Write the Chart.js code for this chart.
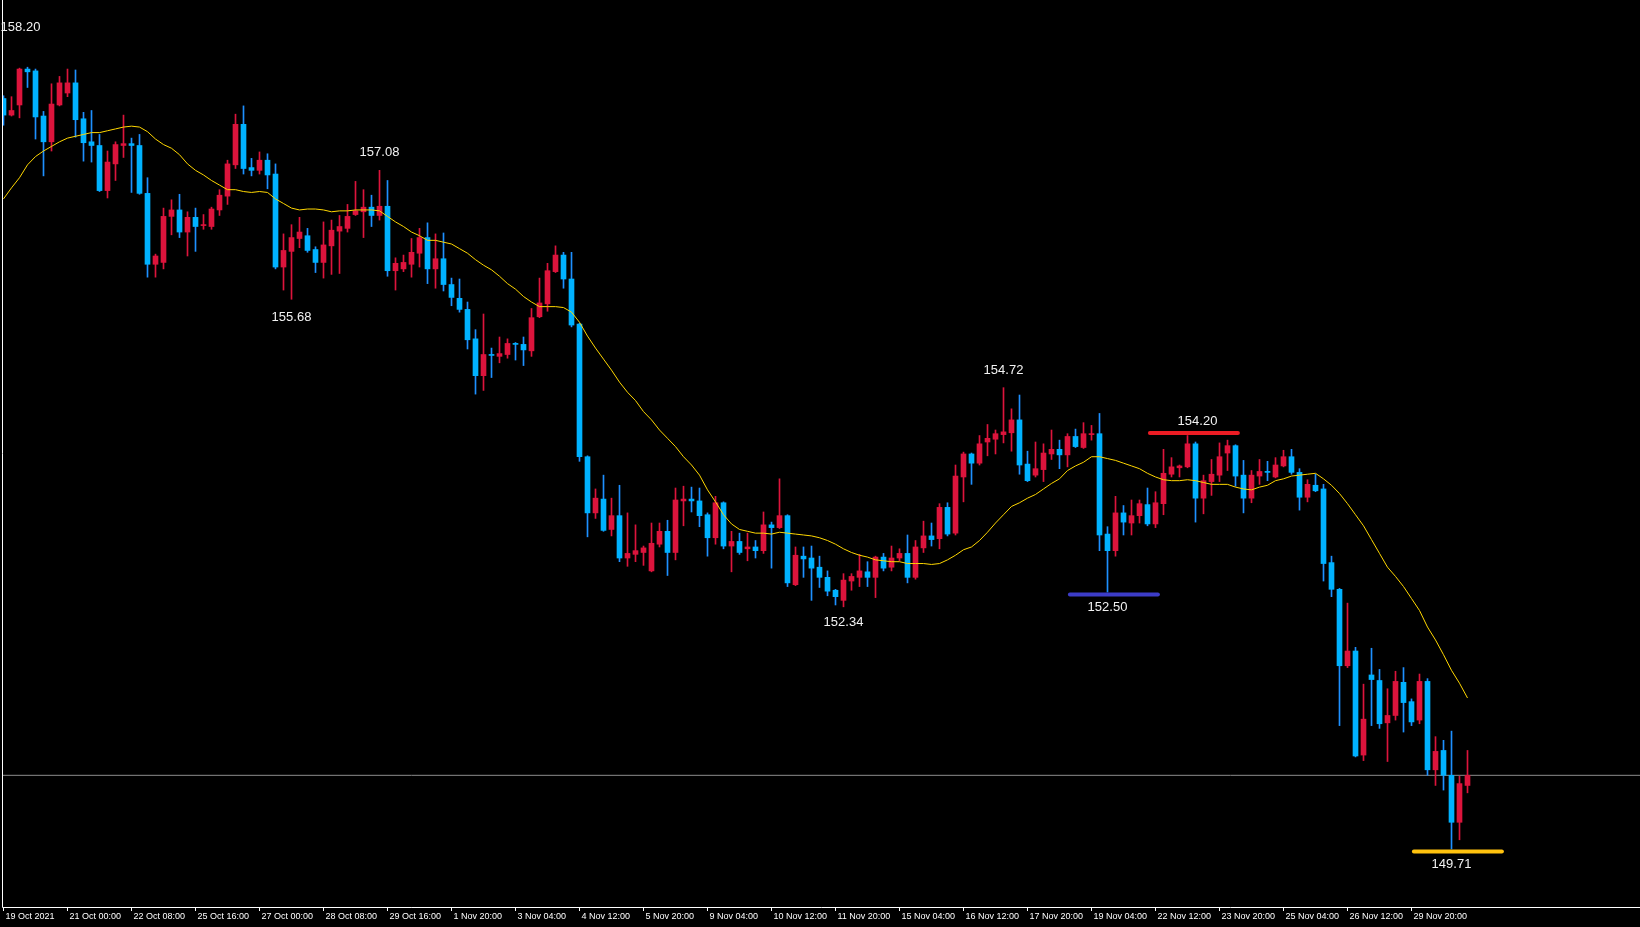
<!DOCTYPE html>
<html>
<head>
<meta charset="utf-8">
<title>H4 candles</title>
<script src="https://cdn.jsdelivr.net/npm/chart.js@4.4.1/dist/chart.umd.min.js"></script>
<style>
html, body { margin: 0; padding: 0; background: #000; overflow: hidden; }
#wrap { width: 1640px; height: 927px; }
</style>
</head>
<body>
<div id="wrap"><canvas id="priceChart" width="1640" height="927"></canvas></div>
<script>
// one candle every 4 hours
const open = [
  157.86,157.68,157.79,158.18,158.16,157.67,157.39,157.79,157.92,158.03,
  157.64,157.39,157.35,156.86,157.15,157.35,157.37,157.35,156.83,156.06,
  156.08,156.58,156.65,156.41,156.57,156.48,156.47,156.65,156.80,157.14,
  157.58,157.11,157.08,157.19,157.04,156.03,156.20,156.34,156.37,156.22,
  156.08,156.26,156.42,156.45,156.60,156.63,156.68,156.59,156.69,155.99,
  156.01,156.06,156.18,156.35,156.01,156.12,155.84,155.69,155.57,155.25,
  154.85,155.08,155.06,155.08,155.20,155.19,155.12,155.49,155.63,155.98,
  156.16,155.90,155.41,153.97,153.36,153.51,153.18,153.33,152.87,152.91,
  152.93,152.73,153.02,153.16,152.93,153.49,153.51,153.49,153.34,153.09,
  153.47,153.00,153.05,152.97,152.99,152.95,153.23,153.20,153.33,152.58,
  152.89,152.87,152.77,152.66,152.52,152.41,152.62,152.66,152.72,152.66,
  152.88,152.77,152.87,152.92,152.66,152.98,153.11,153.08,153.42,153.14,
  153.75,154.00,153.90,154.13,154.16,154.21,154.23,154.37,153.89,153.77,
  153.83,154.00,154.05,153.99,154.19,154.07,154.21,154.22,153.13,152.95,
  153.36,153.25,153.33,153.45,153.24,153.46,153.78,153.85,153.86,154.11,
  153.52,153.70,153.77,154.01,154.09,153.77,153.52,153.76,153.81,153.75,
  153.87,153.97,153.80,153.53,153.66,153.62,152.82,152.53,151.70,151.86,
  150.73,151.60,151.54,151.08,151.16,151.52,151.31,151.11,151.53,150.57,
  150.78,150.51,150.00,150.40
]
const high = [
  157.89,157.88,158.19,158.20,158.18,157.72,158.02,158.10,158.18,158.17,
  157.71,157.73,157.47,157.29,157.39,157.68,157.43,157.47,157.00,156.17,
  156.67,156.76,156.82,156.63,156.67,156.60,156.68,156.87,157.19,157.69,
  157.78,157.21,157.28,157.26,157.15,156.39,156.49,156.57,156.45,156.25,
  156.52,156.54,156.59,156.71,156.96,156.87,156.81,157.08,156.97,156.13,
  156.16,156.34,156.45,156.51,156.39,156.40,155.91,155.90,155.65,155.35,
  155.52,155.15,155.27,155.25,155.21,155.27,155.58,155.91,156.07,156.26,
  156.19,156.19,155.42,153.98,153.62,153.77,153.52,153.66,153.36,153.23,
  153.00,153.25,153.25,153.28,153.63,153.65,153.64,153.63,153.36,153.54,
  153.48,153.16,153.14,153.14,153.06,153.37,153.26,153.73,153.34,152.99,
  152.99,153.00,152.89,152.73,152.53,152.70,152.70,152.91,152.83,152.89,
  152.92,153.00,152.97,153.12,153.06,153.27,153.25,153.46,153.47,153.88,
  154.02,154.01,154.20,154.32,154.26,154.72,154.49,154.64,154.03,154.13,
  154.11,154.26,154.15,154.22,154.27,154.34,154.31,154.44,153.21,153.54,
  153.44,153.50,153.50,153.63,153.59,154.05,153.96,153.88,154.20,154.13,
  153.77,153.94,154.12,154.15,154.10,153.93,153.82,153.94,153.92,153.96,
  154.04,154.05,153.84,153.72,153.78,153.67,152.89,152.54,152.38,151.90,
  151.50,151.89,151.66,151.45,151.64,151.68,151.34,151.61,151.56,150.93,
  150.89,150.99,150.50,150.78
]
const low = [
  157.57,157.67,157.65,157.98,157.42,157.02,157.29,157.78,157.88,157.44,
  157.18,157.17,156.85,156.78,156.97,157.22,156.84,156.82,155.92,155.92,
  156.01,156.38,156.35,156.15,156.20,156.44,156.44,156.59,156.71,157.10,
  157.04,157.02,157.04,156.88,156.01,155.78,155.68,156.24,156.19,155.97,
  155.91,155.95,155.96,156.41,156.59,156.35,156.47,156.54,155.93,155.78,
  155.98,155.92,156.03,155.85,155.80,155.77,155.61,155.54,155.14,154.65,
  154.69,154.83,154.99,155.04,155.02,154.96,155.06,155.48,155.55,155.97,
  155.80,155.38,153.92,153.10,153.30,153.16,153.11,152.83,152.78,152.83,
  152.79,152.72,152.99,152.68,152.85,153.22,153.37,153.21,152.89,153.02,
  152.97,152.72,152.91,152.84,152.87,152.92,152.76,153.19,152.56,152.57,
  152.66,152.41,152.55,152.46,152.36,152.34,152.52,152.56,152.56,152.44,
  152.73,152.73,152.84,152.60,152.64,152.93,153.00,152.97,153.11,153.12,
  153.48,153.67,153.88,153.98,154.00,154.12,154.03,153.78,153.70,153.75,
  153.70,153.94,153.84,153.86,154.07,154.06,154.15,152.95,152.50,152.89,
  153.12,153.12,153.25,153.22,153.20,153.34,153.75,153.75,153.85,153.26,
  153.35,153.55,153.70,153.82,153.65,153.36,153.47,153.67,153.71,153.74,
  153.86,153.78,153.39,153.48,153.59,152.62,152.45,151.05,151.68,150.71,
  150.67,151.05,151.02,150.66,151.11,150.98,151.05,151.07,150.51,150.40,
  150.35,149.71,149.81,150.32
]
const close = [
  157.68,157.73,158.18,158.15,157.66,157.39,157.80,158.03,158.03,157.63,
  157.38,157.35,156.86,157.17,157.36,157.37,157.35,156.83,156.06,156.15,
  156.58,156.65,156.41,156.57,156.47,156.49,156.66,156.81,157.15,157.58,
  157.10,157.08,157.19,157.03,156.03,156.21,156.35,156.41,156.21,156.08,
  156.27,156.43,156.47,156.58,156.64,156.68,156.59,156.69,155.99,156.07,
  156.08,156.19,156.35,156.01,156.12,155.84,155.70,155.57,155.24,154.85,
  155.08,155.07,155.09,155.20,155.19,155.13,155.48,155.64,155.99,156.16,
  155.90,155.40,153.97,153.36,153.52,153.17,153.33,152.87,152.92,152.95,
  152.98,153.03,153.16,152.93,153.50,153.51,153.49,153.33,153.09,153.47,
  153.00,153.05,152.93,152.99,152.95,153.23,153.20,153.33,152.60,152.90,
  152.86,152.76,152.66,152.51,152.45,152.63,152.67,152.73,152.66,152.88,
  152.76,152.87,152.92,152.66,152.99,153.11,153.07,153.42,153.13,153.76,
  154.00,153.90,154.11,154.17,154.22,154.24,154.37,153.88,153.71,153.84,
  154.01,154.05,153.99,154.19,154.08,154.22,154.22,153.12,152.95,153.36,
  153.26,153.33,153.46,153.24,153.47,153.79,153.86,153.87,154.11,153.52,
  153.71,153.78,153.97,154.09,153.76,153.52,153.77,153.81,153.80,153.88,
  153.97,153.80,153.53,153.67,153.60,152.81,152.53,151.70,151.86,150.72,
  151.12,151.55,151.07,151.16,151.53,151.30,151.09,151.53,150.57,150.77,
  150.51,150.00,150.42,150.51
]
// moving average line, read candle by candle
const ma = [
  156.77,156.89,157.00,157.14,157.23,157.29,157.34,157.39,157.43,157.45,
  157.47,157.49,157.49,157.51,157.53,157.55,157.56,157.55,157.50,157.42,
  157.36,157.32,157.25,157.15,157.08,157.03,156.97,156.92,156.87,156.87,
  156.85,156.84,156.85,156.84,156.77,156.72,156.67,156.65,156.66,156.66,
  156.65,156.63,156.64,156.64,156.65,156.65,156.65,156.64,156.58,156.52,
  156.47,156.41,156.37,156.32,156.32,156.30,156.28,156.23,156.18,156.11,
  156.05,156.00,155.93,155.85,155.79,155.71,155.65,155.60,155.60,155.60,
  155.59,155.54,155.43,155.28,155.15,155.03,154.91,154.78,154.67,154.58,
  154.46,154.37,154.26,154.17,154.08,153.97,153.88,153.77,153.61,153.48,
  153.34,153.24,153.18,153.16,153.14,153.14,153.13,153.15,153.14,153.13,
  153.12,153.11,153.09,153.06,153.02,152.97,152.93,152.90,152.88,152.85,
  152.84,152.83,152.83,152.81,152.81,152.81,152.80,152.81,152.85,152.90,
  152.96,152.99,153.06,153.15,153.25,153.34,153.43,153.47,153.52,153.56,
  153.62,153.68,153.73,153.82,153.87,153.91,153.97,153.97,153.95,153.93,
  153.90,153.87,153.84,153.79,153.75,153.72,153.71,153.71,153.72,153.71,
  153.69,153.67,153.67,153.67,153.64,153.62,153.61,153.64,153.66,153.71,
  153.73,153.76,153.77,153.78,153.79,153.73,153.66,153.57,153.46,153.34,
  153.22,153.07,152.92,152.77,152.67,152.56,152.43,152.30,152.12,151.98,
  151.82,151.65,151.51,151.35
]

// one date label every 8 candles
const tickLabels = [
  '19 Oct 2021', '21 Oct 00:00', '22 Oct 08:00', '25 Oct 16:00', '27 Oct 00:00',
  '28 Oct 08:00', '29 Oct 16:00', '1 Nov 20:00', '3 Nov 04:00', '4 Nov 12:00',
  '5 Nov 20:00', '9 Nov 04:00', '10 Nov 12:00', '11 Nov 20:00', '15 Nov 04:00',
  '16 Nov 12:00', '17 Nov 20:00', '19 Nov 04:00', '22 Nov 12:00', '23 Nov 20:00',
  '25 Nov 04:00', '26 Nov 12:00', '29 Nov 20:00'
]
const tickEvery = 8

// swing highs / lows that carry a price label
const markCandles = [3, 47, 36, 125, 138, 148, 105, 181]
const markPrices = [158.20, 157.08, 155.68, 154.72, 152.50, 154.20, 152.34, 149.71]

// support / resistance strokes under some of them
const levelCandles = [148, 138, 181]
const levelPrices = [154.20, 152.50, 149.71]

const bidPrice = 150.51

// ---- styles ----
const BULL = '#dc143c'
const BEAR_BODY = '#00b2ff'
const BEAR_WICK = '#1e90ff'
const levelColors = ['#ec1c24', '#3c3cc8', '#ffc20e']
const levelNudge = [-2.5, 2.5, 2.5]
const markShift = [[-7, -40], [0, -18], [0, 18], [0, -17], [0, 15], [10, -14], [0, 16], [0, 15]]
const X_MIN = -0.1875, X_MAX = 204.5625

const idx = close.map((_, i) => i)
const isBull = i => close[i] >= open[i]

const chartFrame = {
  id: 'chartFrame',
  afterDatasetsDraw(chart) {
    const { ctx, chartArea: a, scales: { x, y } } = chart
    ctx.save()

    // level strokes
    ctx.lineWidth = 4
    ctx.lineCap = 'round'
    levelPrices.forEach((p, i) => {
      const py = y.getPixelForValue(p) + levelNudge[i]
      ctx.strokeStyle = levelColors[i]
      ctx.beginPath()
      ctx.moveTo(x.getPixelForValue(levelCandles[i] - 4.7), py)
      ctx.lineTo(x.getPixelForValue(levelCandles[i] + 6.3), py)
      ctx.stroke()
    })

    ctx.lineCap = 'butt'
    ctx.strokeStyle = '#ffffff'
    ctx.lineWidth = 1
    ctx.beginPath()
    ctx.moveTo(a.left + 0.5, a.top)
    ctx.lineTo(a.left + 0.5, a.bottom + 0.5)
    ctx.lineTo(a.right, a.bottom + 0.5)
    ctx.stroke()

    ctx.font = '9px "Liberation Sans", Arial, sans-serif'
    ctx.fillStyle = '#ffffff'
    ctx.textAlign = 'left'
    ctx.textBaseline = 'middle'
    tickLabels.forEach((t, i) => {
      const px = Math.round(x.getPixelForValue(i * tickEvery)) - 0.5
      ctx.beginPath()
      ctx.moveTo(px, a.bottom)
      ctx.lineTo(px, a.bottom + 4)
      ctx.stroke()
      ctx.fillText(t, px + 2, a.bottom + 10)
    })

    ctx.font = '13px "Liberation Sans", Arial, sans-serif'
    ctx.fillStyle = '#f2f2f2'
    ctx.textAlign = 'center'
    markCandles.forEach((k, i) => {
      const [dx, dy] = markShift[i]
      ctx.fillText(markPrices[i].toFixed(2), x.getPixelForValue(k) + dx, y.getPixelForValue(markPrices[i]) + dy)
    })
    ctx.restore()
  }
}

new Chart('priceChart', {
  type: 'bar',
  data: {
    datasets: [
      {
        type: 'line',
        data: idx.map(i => ({ x: i, y: ma[i] })),
        borderColor: '#ffd700',
        borderWidth: 1,
        pointRadius: 0,
        tension: 0,
        order: 1
      },
      {
        data: idx.map(i => ({ x: i, y: [open[i], close[i]] })),
        backgroundColor: idx.map(i => isBull(i) ? BULL : BEAR_BODY),
        barThickness: 5,
        minBarLength: 1,
        grouped: false,
        order: 2
      },
      {
        data: idx.map(i => ({ x: i, y: [low[i], high[i]] })),
        backgroundColor: idx.map(i => isBull(i) ? BULL : BEAR_WICK),
        barThickness: 1,
        grouped: false,
        order: 3
      },
      {
        type: 'line',
        data: [{ x: X_MIN, y: bidPrice }, { x: X_MAX, y: bidPrice }],
        borderColor: '#8c8c8c',
        borderWidth: 1,
        pointRadius: 0,
        order: 4
      }
    ]
  },
  options: {
    responsive: false,
    devicePixelRatio: 1,
    animation: false,
    layout: { padding: { left: 2, right: 0, top: 0, bottom: 20 } },
    plugins: { legend: { display: false }, tooltip: { enabled: false } },
    scales: {
      x: { type: 'linear', min: X_MIN, max: X_MAX, offset: false, display: false },
      y: { min: 149.08, max: 158.93, display: false }
    }
  },
  plugins: [chartFrame]
})
</script>
</body>
</html>
